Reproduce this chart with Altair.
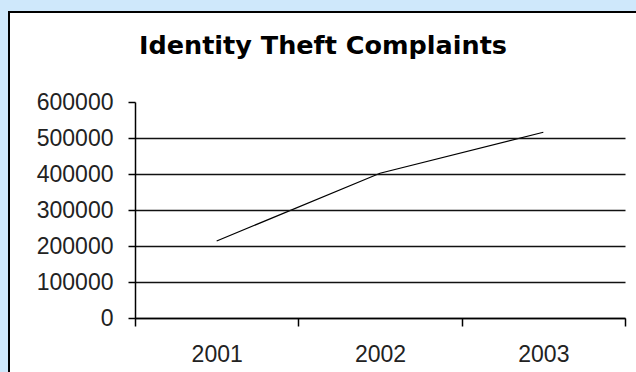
import altair as alt
import pandas as pd

years = ["2001", "2002", "2003"]
complaints = [214000, 402000, 516000]
y_ticks = [0, 100000, 200000, 300000, 400000, 500000, 600000]
title_text = "Identity Theft Complaints"

df = pd.DataFrame({"year": years, "complaints": complaints})

label_font = "Liberation Sans"

frame = alt.Chart(pd.DataFrame({"k": [0]})).mark_rect(
    fill="white", stroke="black", strokeWidth=2
).encode(
    x=alt.value(-126), x2=alt.value(530),
    y=alt.value(-90), y2=alt.value(320),
)

title = alt.Chart(pd.DataFrame({"k": [0]})).mark_text(
    font="DejaVu Sans", fontSize=25.5, fontWeight="bold", color="black",
    align="center", baseline="alphabetic",
).encode(
    x=alt.value(188), y=alt.value(-48), text=alt.value(title_text),
)

line = alt.Chart(df).mark_line(color="black", strokeWidth=1.2).encode(
    x=alt.X(
        "year:N",
        bandPosition=0.5,
        scale=alt.Scale(type="band", paddingInner=0, paddingOuter=0),
        axis=alt.Axis(
            title=None, labelAngle=0, tickBand="extent", grid=False,
            domainColor="black", domainWidth=1.5, tickColor="black", tickWidth=1.5, tickSize=8,
            labelFont=label_font, labelFontSize=23, labelColor="#222222",
            labelPadding=17, zindex=1,
        ),
    ),
    y=alt.Y(
        "complaints:Q",
        scale=alt.Scale(domain=[0, 600000], nice=False),
        axis=alt.Axis(
            title=None, values=y_ticks, format="d", grid=True,
            gridColor=alt.condition("datum.value >= 600000", alt.value("transparent"), alt.value("#111111")),
            gridWidth=1.5,
            domainColor="black", domainWidth=1.5, tickColor="black", tickWidth=1.5, tickSize=7,
            labelFont=label_font, labelFontSize=23, labelColor="#222222",
            labelPadding=15, zindex=1,
        ),
    ),
)

chart = alt.layer(frame, title, line).properties(
    width=490,
    height=216,
    autosize=alt.AutoSizeParams(type="none"),
    padding={"left": 135, "top": 102, "right": 11, "bottom": 54},
    background="#cfe8fb",
).configure_view(stroke=None)

chart.save("out.html", embed_options={"renderer": "svg", "actions": False})
